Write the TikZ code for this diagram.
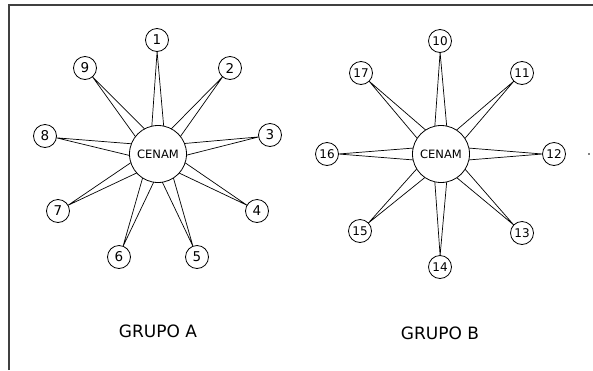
\documentclass[tikz,border=0pt]{standalone}
\usepackage{fontspec}
\setmainfont{DejaVu Sans}
\usetikzlibrary{calc}
\begin{document}
\begin{tikzpicture}[x=1pt,y=-1pt,
  hub/.style={circle,draw,line width=0.8pt,minimum size=57pt,inner sep=0pt,font=\fontsize{11.5}{12}\selectfont},
  sat/.style={circle,draw,line width=0.8pt,minimum size=23pt,inner sep=0pt,font=\fontsize{13.5}{14}\selectfont},
  satw/.style={sat,font=\fontsize{12}{13}\selectfont},
  spoke/.style={line width=0.7pt},
  frame/.style={line width=1.4pt,draw=black!75},
  caption/.style={font=\fontsize{17}{20}\selectfont}]
\useasboundingbox (0,0) rectangle (593,370);
\draw[frame] (9,370) -- (9,5) -- (593,5);
% Grupo A
\node[hub] (CA) at (158,154) {CENAM};
\node[sat] (n1) at (157,40) {1};
\node[sat] (n2) at (230,68) {2};
\node[sat] (n3) at (270,135) {3};
\node[sat] (n4) at (257,211) {4};
\node[sat] (n5) at (197,257) {5};
\node[sat] (n6) at (119,257) {6};
\node[sat] (n7) at (58,211) {7};
\node[sat] (n8) at (45,136) {8};
\node[sat] (n9) at (85,68) {9};
\node[caption] (ga) at (158,331) {GRUPO A};
% Grupo B
\node[hub] (CB) at (441,154) {CENAM};
\node[satw] (n10) at (440,41) {10};
\node[satw] (n11) at (522,73) {11};
\node[satw] (n12) at (554,154) {12};
\node[satw] (n13) at (522,233) {13};
\node[satw] (n14) at (440,267) {14};
\node[satw] (n15) at (360,231) {15};
\node[satw] (n16) at (327,154) {16};
\node[satw] (n17) at (361,73) {17};
\node[caption] (gb) at (440,333) {GRUPO B};
\node[circle,fill,inner sep=0pt,minimum size=1.6pt] (dot) at (589,154) {};
% spokes
\foreach \n/\h in {n1/CA,n2/CA,n3/CA,n4/CA,n5/CA,n6/CA,n7/CA,n8/CA,n9/CA,
                   n10/CB,n11/CB,n12/CB,n13/CB,n14/CB,n15/CB,n16/CB,n17/CB}{
  \coordinate (tip) at ($(\n)!11.5pt!(\h)$);
  \draw[spoke] ($(\h)!28.5pt!12:(\n)$) -- (tip) -- ($(\h)!28.5pt!-12:(\n)$);
}
\end{tikzpicture}
\end{document}
